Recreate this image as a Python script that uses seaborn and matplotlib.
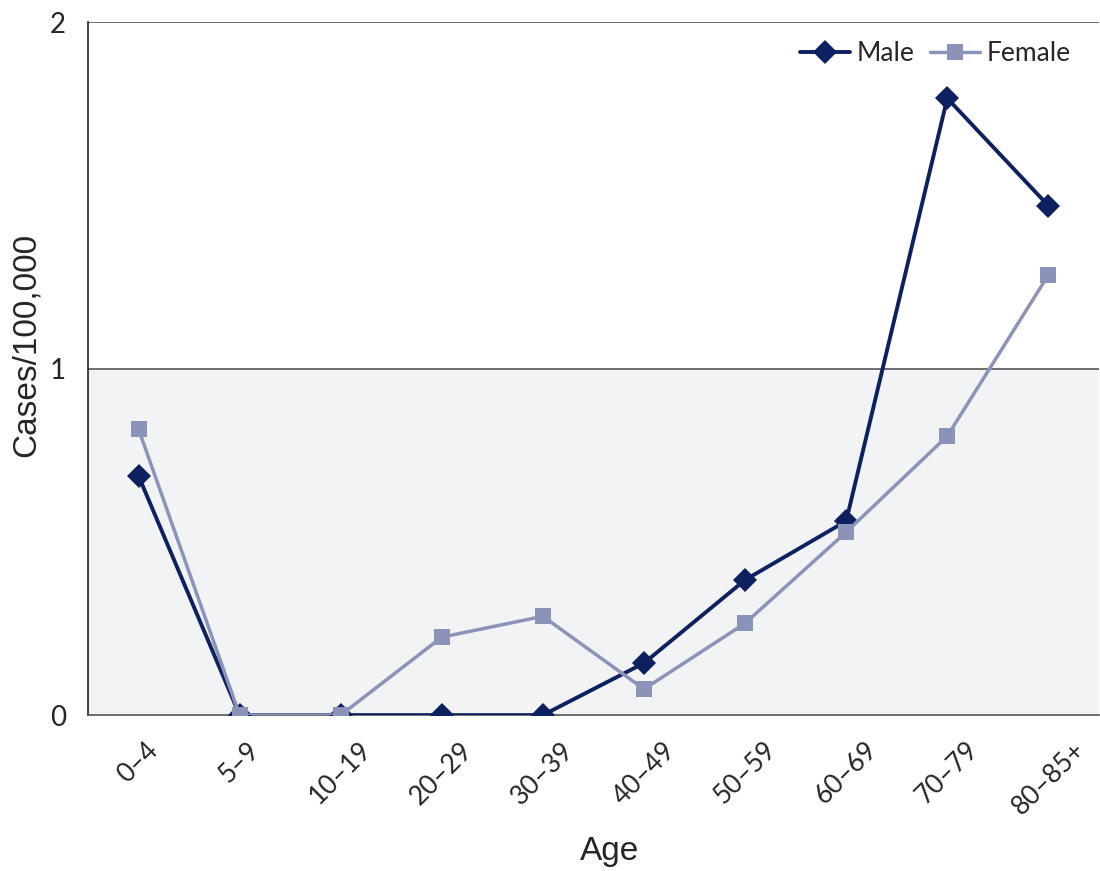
import matplotlib
matplotlib.use("Agg")
import matplotlib.pyplot as plt
import seaborn as sns
import pandas as pd
import numpy as np
from matplotlib.lines import Line2D

ages = ["0–4", "5–9", "10–19", "20–29", "30–39", "40–49", "50–59", "60–69", "70–79", "80–85+"]
male = [0.69, 0.0, 0.0, 0.0, 0.0, 0.15, 0.39, 0.56, 1.78, 1.47]
female = [0.825, 0.0, 0.0, 0.225, 0.285, 0.075, 0.265, 0.528, 0.805, 1.27]
yticks = [0, 1, 2]

male_color = "#0d2160"
female_color = "#8b93b9"

sns.set_style("white")
plt.rcParams["font.family"] = ["Lato", "DejaVu Sans"]

df = pd.DataFrame({
    "x": list(range(len(ages))) * 2,
    "Age": ages * 2,
    "value": male + female,
    "sex": ["Male"] * len(ages) + ["Female"] * len(ages),
})

fig = plt.figure(figsize=(11, 8.71), dpi=100)
ax = fig.add_axes([0.08, 0.179, 0.919, 0.7957])

ax.axhspan(0, 1, color="#f2f3f5", zorder=0, lw=0)
for yv in [1, 2]:
    ax.axhline(yv, color="#555555", lw=1.2, zorder=1)

sns.lineplot(data=df, x="x", y="value", hue="sex", style="sex",
             palette={"Male": male_color, "Female": female_color},
             markers={"Male": "D", "Female": "s"}, dashes=False,
             hue_order=["Male", "Female"], style_order=["Male", "Female"],
             ax=ax, legend=False, zorder=3)
for line, lw, ms in zip(ax.lines[-2:], [2.8, 2.5], [12, 12]):
    line.set_linewidth(lw)
    line.set_markersize(ms)
    line.set_markeredgewidth(0)

ax.set_xlim(-0.5, len(ages) - 0.5)
ax.set_ylim(0, 2)
ax.set_yticks(yticks)
ax.set_yticklabels([str(v) for v in yticks], fontsize=20)
ax.set_xticks(np.arange(len(ages)))
ax.set_xticklabels(ages, rotation=45, ha="center", fontsize=19)
ax.tick_params(axis="x", which="major", length=0, pad=16)
ax.set_xticks(np.arange(-0.5, len(ages)), minor=True)
ax.tick_params(axis="x", which="minor", length=8, width=1, color="#555555", direction="out")
ax.tick_params(axis="y", which="major", length=8, width=1, color="#555555", direction="out", pad=8)

for s in ["top", "right"]:
    ax.spines[s].set_visible(False)
ax.spines["left"].set_color("#222222")
ax.spines["left"].set_linewidth(1.2)
ax.spines["bottom"].set_color("#555555")
ax.spines["bottom"].set_linewidth(1.2)

ax.set_xlabel("Age", fontsize=24, family=["Liberation Sans", "DejaVu Sans"], labelpad=16)
ax.xaxis.set_label_coords(0.516, -0.175)
ax.set_ylabel("Cases/100,000", fontsize=24, family=["Liberation Sans", "DejaVu Sans"])
ax.yaxis.set_label_coords(-0.046, 0.534)

handles = [Line2D([], [], color=male_color, marker="D", lw=2.8, ms=12, mew=0),
           Line2D([], [], color=female_color, marker="s", lw=2.5, ms=12, mew=0)]
ax.legend(handles, ["Male", "Female"], loc="upper right", ncol=2, frameon=False,
          fontsize=19, handlelength=1.9, handletextpad=0.25, columnspacing=0.6,
          bbox_to_anchor=(0.988, 0.995), borderaxespad=0.2)

fig.savefig("out.png", dpi=100)
